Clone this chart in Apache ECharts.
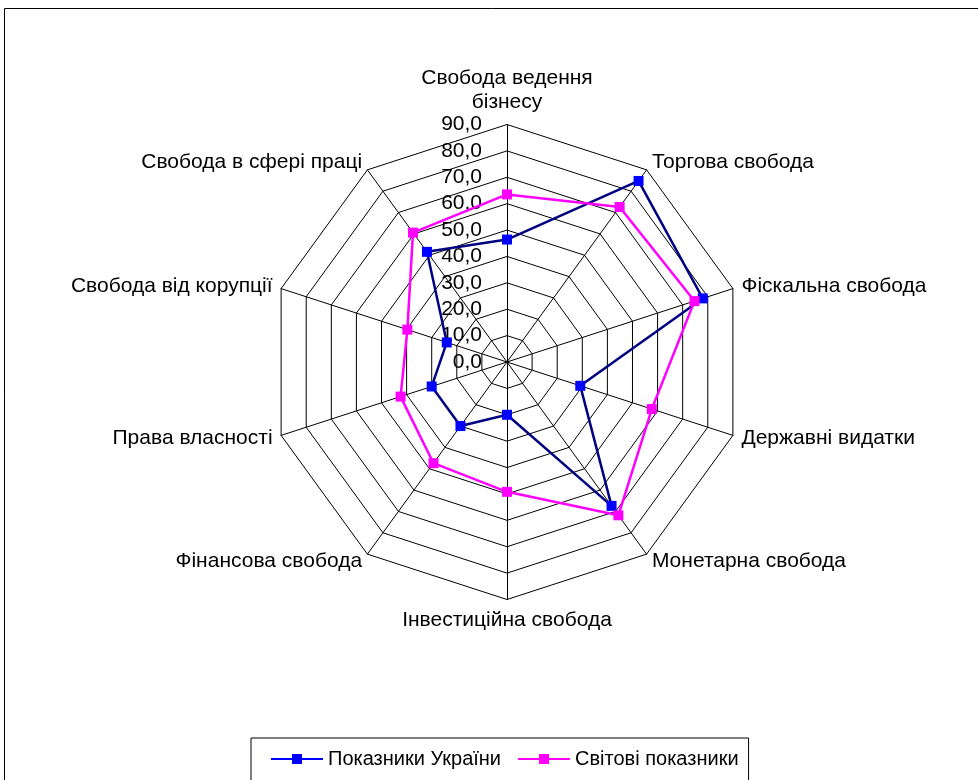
<!DOCTYPE html>
<html>
<head>
<meta charset="utf-8">
<script src="https://cdn.jsdelivr.net/npm/echarts@6/dist/echarts.min.js"></script>
<style>
  html, body { margin: 0; padding: 0; background: #fff; }
  #main { width: 978px; height: 780px; }
</style>
</head>
<body>
<div id="main"></div>
<script>
// clockwise from the top, as in the picture
const categories = [
  'Свобода ведення\nбізнесу', 'Торгова свобода', 'Фіскальна свобода', 'Державні видатки',
  'Монетарна свобода', 'Інвестиційна свобода', 'Фінансова свобода', 'Права власності',
  'Свобода від корупції', 'Свобода в сфері праці'
]
const ukraine = [46.4, 84.8, 78.0, 29.2, 67.4, 20.0, 30.0, 30.0, 24.0, 51.6]
const world = [63.5, 72.6, 74.7, 57.7, 71.8, 49.2, 47.4, 42.4, 39.7, 60.6]
const seriesNames = ['Показники України', 'Світові показники']
const axisMin = 0
const axisMax = 90
const axisSteps = 9

// echarts lays indicators out counter-clockwise, so flip the order
const order = categories.map((_, i) => (categories.length - i) % categories.length)
const pick = arr => order.map(i => arr[i])

const chart = echarts.init(document.getElementById('main'))
const font = 'Liberation Sans, Arial, sans-serif'
const iconPath = 'path://M0,4 L52,4 L52,6 L0,6 Z M21,0 L31,0 L31,10 L21,10 Z'

const option = {
  animation: false,
  graphic: [{
    type: 'rect',
    shape: { x: 4.5, y: 8.5, width: 1200, height: 1200 },
    style: { fill: 'none', stroke: '#000', lineWidth: 1 }
  }],
  legend: {
    left: 251,
    top: 738,
    padding: [11, 10, 40, 20],
    itemGap: 17,
    itemWidth: 52,
    itemHeight: 10,
    borderColor: '#000',
    borderWidth: 1,
    textStyle: { color: '#000', fontSize: 20, fontFamily: font },
    data: [
      { name: seriesNames[0], icon: iconPath },
      { name: seriesNames[1], icon: iconPath }
    ]
  },
  radar: {
    center: [507, 362],
    radius: 237.5,
    startAngle: 90,
    shape: 'polygon',
    splitNumber: axisSteps,
    nameGap: 9,
    axisName: { color: '#000', fontSize: 21, fontFamily: font, lineHeight: 24 },
    axisLine: { lineStyle: { color: '#000', width: 1 } },
    splitLine: { lineStyle: { color: '#000', width: 1 } },
    splitArea: { show: false },
    axisTick: { show: false },
    axisLabel: {
      show: false,
      color: '#000',
      fontSize: 21,
      fontFamily: font,
      margin: 25,
      formatter: v => v.toFixed(1).replace('.', ',')
    },
    indicator: pick(categories).map((name, i) => ({
      name: name,
      min: axisMin,
      max: axisMax,
      axisLabel: i === 0 ? { show: true } : undefined
    }))
  },
  series: [{
    type: 'radar',
    symbol: 'rect',
    symbolSize: 10,
    data: [
      {
        name: seriesNames[0],
        value: pick(ukraine),
        itemStyle: { color: '#0000ff' },
        lineStyle: { color: '#000080', width: 2.5 }
      },
      {
        name: seriesNames[1],
        value: pick(world),
        itemStyle: { color: '#ff00ff' },
        lineStyle: { color: '#ff00ff', width: 2.5 }
      }
    ]
  }]
}

chart.setOption(option)
</script>
</body>
</html>
